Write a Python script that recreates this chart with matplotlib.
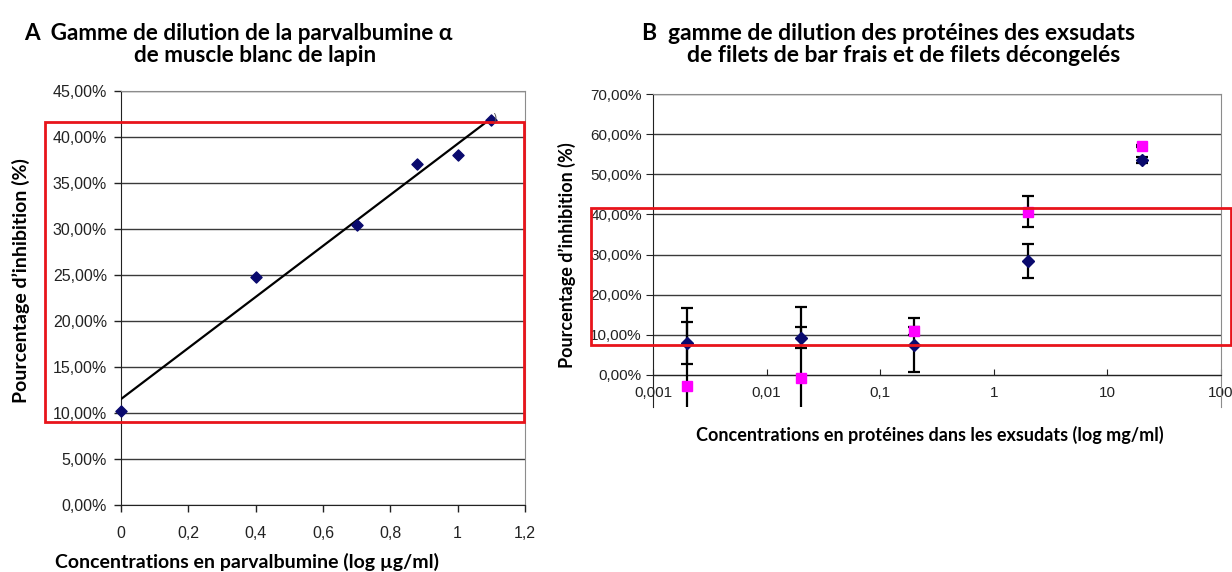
# libraries
import numpy as np
import matplotlib
matplotlib.use("Agg")
import matplotlib.pyplot as plt
from matplotlib.ticker import FuncFormatter, FixedLocator
from matplotlib.patches import Rectangle

# data - panel A (parvalbumine)
conc_a = [0.0, 0.4, 0.7, 0.88, 1.0, 1.1]
inhib_a = [10.2, 24.8, 30.4, 37.1, 38.0, 41.8]

# data - panel B (exsudats), two series with error bars
conc_b = [0.002, 0.02, 0.2, 2, 20]
frais = [7.9, 9.3, 7.4, 28.4, 53.6]
frais_err = [5.2, 2.7, 6.7, 4.3, 0.8]
decong = [-2.8, -0.7, 10.9, 40.7, 57.0]
decong_err = [19.5, 17.6, 1.0, 3.8, 0.3]

# red highlight boxes (data coords: x0, y0, x1, y1)
box_a = (-0.225, 9.0, 1.198, 41.6)
box_b = (0.000286, 7.4, 122, 41.7)

title_a = ["A  Gamme de dilution de la parvalbumine \u03b1", "de muscle blanc de lapin"]
title_b = ["B  gamme de dilution des prot\u00e9ines des exsudats",
           "de filets de bar frais et de filets d\u00e9congel\u00e9s"]
ylab = "Pourcentage d\u2019inhibition (%)"
xlab_a = "Concentrations en parvalbumine (log \u00b5g/ml)"
xlab_b = "Concentrations en prot\u00e9ines dans les exsudats (log mg/ml)"

W, H = 1232, 572
fig = plt.figure(figsize=(W / 100, H / 100), dpi=100)
fig.patch.set_facecolor("white")

bold = dict(family="Lato", fontweight="bold")
tickfont = "Liberation Sans"


def px_axes(l, t, r, b):
    return fig.add_axes([l / W, 1 - b / H, (r - l) / W, (b - t) / H])


def px_text(x, y, s, **kw):
    return fig.text(x / W, 1 - y / H, s, **kw)


def pct(v, pos):
    return ("%.2f%%" % v).replace(".", ",")


def dec(v, pos):
    return ("%g" % v).replace(".", ",")


# ---------- panel A ----------
ax = px_axes(121, 91, 525, 505)
ax.set_xlim(0, 1.2)
ax.set_ylim(0, 45)
ax.set_yticks(np.arange(0, 46, 5))
ax.set_xticks(np.arange(0, 1.21, 0.2))
ax.yaxis.set_major_formatter(FuncFormatter(pct))
ax.xaxis.set_major_formatter(FuncFormatter(dec))
ax.grid(axis="y", color="#3a3a3a", lw=1)
ax.set_axisbelow(True)
for s in ["top", "right"]:
    ax.spines[s].set_color("#8c8c8c")
for s in ["left", "bottom"]:
    ax.spines[s].set_color("#222222")
ax.tick_params(axis="y", direction="out", length=5, width=1, color="#222222",
               labelsize=11.5, labelcolor="#222222", pad=5)
ax.tick_params(axis="x", direction="out", length=5, width=1, color="#222222",
               labelsize=11.5, labelcolor="#222222", pad=10)
for lab in ax.get_xticklabels() + ax.get_yticklabels():
    lab.set_family(tickfont)

# linear trend line
k, b0 = np.polyfit(conc_a, inhib_a, 1)
xs = np.array([0, max(conc_a)])
ax.plot(xs, k * xs + b0, color="black", lw=1.6, zorder=3)
ax.scatter(conc_a, inhib_a, marker="D", s=32, color="#0a0a6e", zorder=4,
           clip_on=False)

ax.add_patch(Rectangle((box_a[0], box_a[1]), box_a[2] - box_a[0],
                       box_a[3] - box_a[1], fill=False, ec="#e8141b",
                       lw=2, clip_on=False, zorder=5))
px_text(21, 281, ylab, rotation=90, ha="center", va="center",
        fontsize=14, **bold)
px_text(55, 562, xlab_a, ha="left", va="center", fontsize=14, **bold)
px_text(494, 117, ")", fontsize=8, color="#555555", ha="center", va="center")
px_text(238, 33, title_a[0], ha="center", va="center", fontsize=16.2, **bold)
px_text(255, 56, title_a[1], ha="center", va="center", fontsize=16.2, **bold)

# ---------- panel B ----------
bx = px_axes(653, 94, 1221, 407)
bx.set_xscale("log")
bx.set_xlim(0.001, 100)
bx.set_ylim(-8, 70)
bx.set_yticks(np.arange(0, 71, 10))
bx.xaxis.set_major_locator(FixedLocator([0.001, 0.01, 0.1, 1, 10, 100]))
bx.xaxis.set_minor_locator(FixedLocator([]))
bx.yaxis.set_major_formatter(FuncFormatter(pct))
bx.xaxis.set_major_formatter(FuncFormatter(dec))
bx.grid(axis="y", color="#3a3a3a", lw=1)
bx.set_axisbelow(True)
bx.spines["bottom"].set_position(("data", 0))
bx.spines["bottom"].set_color("#222222")
bx.spines["left"].set_color("#222222")
bx.spines["top"].set_color("#8c8c8c")
bx.spines["right"].set_color("#8c8c8c")
bx.tick_params(axis="y", direction="out", length=5, color="#222222",
               labelsize=11, labelcolor="#222222", pad=3)
bx.tick_params(axis="x", direction="in", length=4, color="#222222",
               labelsize=11, labelcolor="#222222", pad=8)
for lab in bx.get_xticklabels() + bx.get_yticklabels():
    lab.set_family(tickfont)

bx.errorbar(conc_b, frais, yerr=frais_err, fmt="D", ms=6, color="#0a0a6e",
            ecolor="black", elinewidth=1.6, capsize=4.5, capthick=1.6, zorder=4)
bx.errorbar(conc_b, decong, yerr=decong_err, fmt="s", ms=6.5, color="#ff00ff",
            ecolor="black", elinewidth=1.6, capsize=4.5, capthick=1.6, zorder=4)

bx.add_patch(Rectangle((box_b[0], box_b[1]), box_b[2] - box_b[0],
                       box_b[3] - box_b[1], fill=False, ec="#e8141b",
                       lw=2, clip_on=False, zorder=5))
px_text(567, 255, ylab, rotation=90, ha="center", va="center",
        fontsize=13, **bold)
px_text(930, 435, xlab_b, ha="center", va="center", fontsize=13, **bold)
px_text(888, 33, title_b[0], ha="center", va="center", fontsize=16.5, **bold)
px_text(904, 56, title_b[1], ha="center", va="center", fontsize=16.5, **bold)

fig.savefig("out.png", dpi=100)
